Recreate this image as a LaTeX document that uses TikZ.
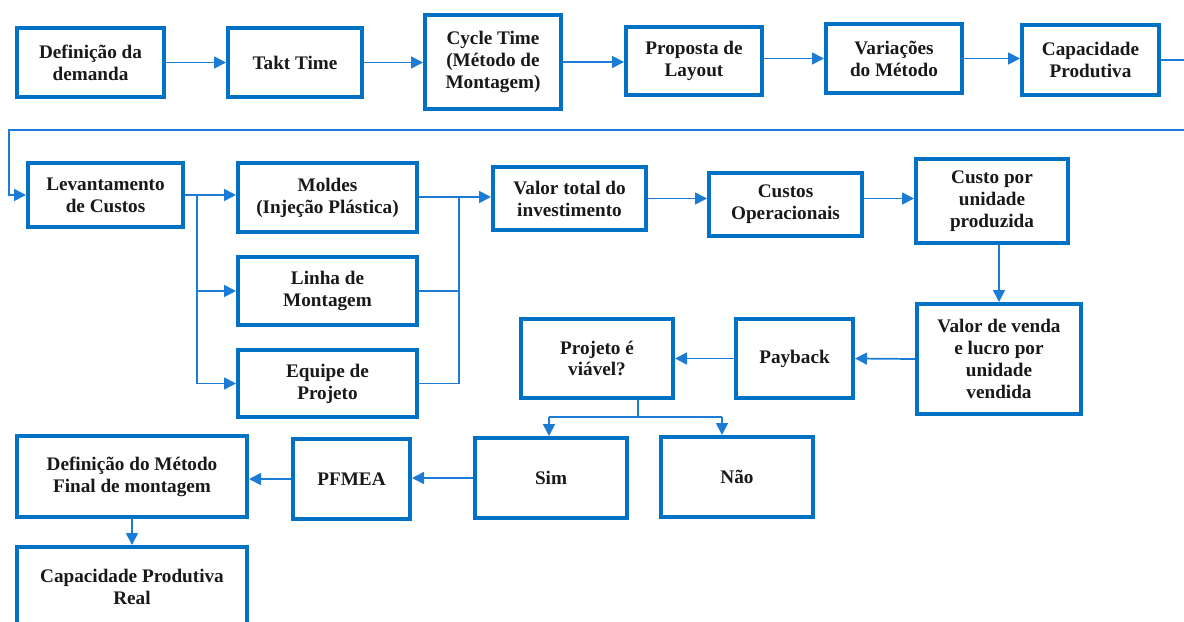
\documentclass[tikz,border=0pt]{standalone}
\usepackage{fontspec}
\setmainfont{Liberation Serif}[BoldFont={Liberation Serif Bold}]
\newfontfamily\flserif{Liberation Serif}[BoldFont={Liberation Serif Bold}]
\usetikzlibrary{arrows.meta}
\definecolor{fl-box}{HTML}{0072C6}
\definecolor{fl-line}{HTML}{1C7CD5}

\begin{document}
\begin{tikzpicture}[x=0.75pt, y=-0.75pt, >={Triangle[length=9pt,width=9pt]},
  box/.style={draw=fl-box, line width=3pt, fill=white, align=center, inner sep=0pt,
    font=\flserif\fontsize{14.4}{16.4}\selectfont\bfseries, text=black!90},
  boxsize/.style 2 args={minimum width=#1*0.75pt, minimum height=#2*0.75pt},
  flow/.style={draw=fl-line, line width=1.3pt}]
  \clip (0,0) rectangle (1184,621);
  % first row
  \node[box, boxsize={147}{69}] (dem) at (90.5,62.5) {Definição da\\demanda};
  \node[box, boxsize={134}{69}] (takt) at (295,62.5) {Takt Time};
  \node[box, boxsize={136}{94}] (cycle) at (493,62) {Cycle Time\\(Método de\\Montagem)};
  \node[box, boxsize={136}{68}] (layout) at (694,61) {Proposta de\\Layout};
  \node[box, boxsize={136}{69}] (variac) at (894,58.5) {Variações\\do Método};
  \node[box, boxsize={137}{70}] (capac) at (1090.5,60) {Capacidade\\Produtiva};
  % costs
  \node[box, boxsize={155}{64}] (levant) at (105.5,195) {Levantamento\\de Custos};
  \node[box, boxsize={179}{69}] (moldes) at (327.5,197.5) {Moldes\\(Injeção Plástica)};
  \node[box, boxsize={179}{68}] (linha) at (327.5,291) {Linha de\\Montagem};
  \node[box, boxsize={179}{67}] (equipe) at (327.5,383.5) {Equipe de\\Projeto};
  \node[box, boxsize={153}{63}] (valor) at (569.5,198.5) {Valor total do\\investimento};
  \node[box, boxsize={153}{63}] (custos) at (785.5,204.5) {Custos\\Operacionais};
  \node[box, boxsize={152}{84}] (custoun) at (992,201) {Custo por\\unidade\\produzida};
  \node[box, boxsize={164}{110}] (venda) at (999,359) {Valor de venda\\e lucro por\\unidade\\vendida};
  \node[box, boxsize={117}{79}] (payback) at (794.5,358.5) {Payback};
  \node[box, boxsize={152}{79}] (viavel) at (597,358.5) {Projeto é\\viável?};
  % decision
  \node[box, boxsize={152}{80}] (sim) at (551,478) {Sim};
  \node[box, boxsize={152}{80}] (nao) at (737,477) {Não};
  \node[box, boxsize={117}{80}] (pfmea) at (351.5,479) {PFMEA};
  \node[box, boxsize={230}{81}] (metodo) at (132,476.5) {Definição do Método\\Final de montagem};
  \node[box, boxsize={230}{80}] (real) at (132,587) {Capacidade Produtiva\\Real};
  % turn points
  \coordinate (edgeR) at (1200,130);
  \coordinate (edgeL) at (9,130);
  \coordinate (splitL) at (197,195);
  \coordinate (mergeR) at (459,197);
  \coordinate (fork) at (638,417);
  \coordinate (forkS) at (549,417);
  \coordinate (forkN) at (722,417);
  % connectors
  \draw[flow, ->] (dem.east) -- (dem.east -| takt.west);
  \draw[flow, ->] (takt.east) -- (takt.east -| cycle.west);
  \draw[flow, ->] (cycle.east) -- (cycle.east -| layout.west);
  \draw[flow, ->] (layout.east |- variac) -- (variac.west);
  \draw[flow, ->] (variac.east) -- (variac.east -| capac.west);
  \draw[flow, ->] (capac.east) -| (edgeR) -- (edgeL) |- (levant.west);
  \draw[flow, ->] (levant.east) -- (levant.east -| moldes.west);
  \draw[flow, ->] (splitL) |- (linha.west);
  \draw[flow, ->] (splitL) |- (equipe.west);
  \draw[flow] (moldes.east |- mergeR) -- (mergeR);
  \draw[flow] (linha.east) -| (mergeR);
  \draw[flow] (equipe.east) -| (mergeR);
  \draw[flow, ->] (mergeR) -- (mergeR -| valor.west);
  \draw[flow, ->] (valor.east) -- (valor.east -| custos.west);
  \draw[flow, ->] (custos.east |- valor.east) -- (custoun.west |- valor.east);
  \draw[flow, ->] (venda.north |- custoun.south) -- (venda.north);
  \draw[flow, ->] (venda.west) -- (payback.east);
  \draw[flow, ->] (payback.west) -- (viavel.east);
  \draw[flow] (fork |- viavel.south) -- (fork);
  \draw[flow] (forkS) -- (forkN);
  \draw[flow, ->] (forkS) -- (forkS |- sim.north);
  \draw[flow, ->] (forkN) -- (forkN |- nao.north);
  \draw[flow, ->] (sim.west) -- (sim.west -| pfmea.east);
  \draw[flow, ->] (pfmea.west) -- (pfmea.west -| metodo.east);
  \draw[flow, ->] (metodo.south) -- (real.north);
\end{tikzpicture}
\end{document}
